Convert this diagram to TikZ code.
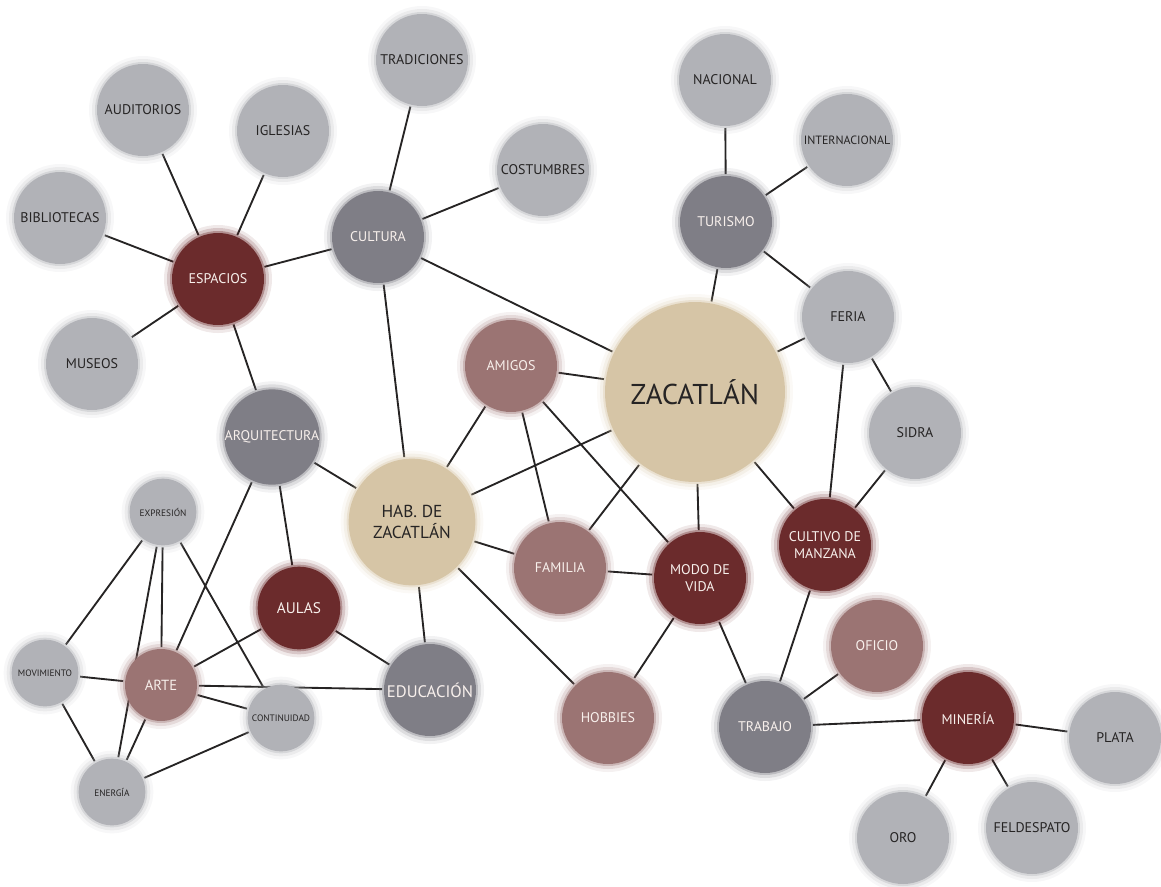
\documentclass[tikz,border=0pt]{standalone}
\usepackage{fontspec}
\setmainfont{PT Sans}
\usetikzlibrary{backgrounds}
\definecolor{litegray}{RGB}{177,178,183}
\definecolor{midgray}{RGB}{127,126,134}
\definecolor{wine}{RGB}{107,43,44}
\definecolor{rose}{RGB}{155,116,115}
\definecolor{sand}{RGB}{214,197,166}
\definecolor{ink}{RGB}{38,36,36}
\definecolor{chalk}{RGB}{248,240,236}

\begin{document}
\begin{tikzpicture}[x=0.75pt,y=0.75pt,yscale=-1,xscale=1,
  blob/.style={circle,inner sep=0pt,minimum size=69pt,fill=#1,draw=#1,draw opacity=.35,line width=3pt,
    preaction={draw=#1,draw opacity=.1,line width=12pt},
    preaction={draw=#1,draw opacity=.18,line width=7.5pt},align=center,font=\fontsize{10.5}{12.5}\selectfont},
  leaf/.style={blob=litegray,text=ink},
  hub/.style={blob=midgray,text=chalk},
  core/.style={blob=wine,text=chalk},
  kin/.style={blob=rose,text=chalk},
  town/.style={blob=sand,text=ink},
  tiny/.style={minimum size=50pt,font=\fontsize{7}{8}\selectfont},
  wire/.style={line width=1.4pt,draw=ink}]
\useasboundingbox (0,0) rectangle (1161,886);

% espacios / cultura
\node[leaf] (tradiciones) at (422,60) {TRADICIONES};
\node[leaf] (auditorios) at (143,110) {AUDITORIOS};
\node[leaf] (iglesias) at (283,131) {IGLESIAS};
\node[leaf] (bibliotecas) at (60,218) {BIBLIOTECAS};
\node[core] (espacios) at (218,279) {ESPACIOS};
\node[leaf] (museos) at (92,364) {MUSEOS};
\node[hub] (cultura) at (378,237) {CULTURA};
\node[leaf] (costumbres) at (543,170) {COSTUMBRES};

% turismo
\node[leaf] (nacional) at (725,80) {NACIONAL};
\node[leaf,font=\fontsize{9}{11}\selectfont] (internacional) at (847,140) {INTERNACIONAL};
\node[hub] (turismo) at (726,222) {TURISMO};
\node[leaf] (feria) at (848,317) {FERIA};
\node[leaf] (sidra) at (915,433) {SIDRA};

% centro
\node[town,minimum size=135pt,font=\fontsize{21.5}{25}\selectfont] (zacatlan) at (695,392) {ZACATLÁN};
\node[town,minimum size=95pt,font=\fontsize{13}{15.5}\selectfont] (hab) at (412,522) {HAB. DE\\ZACATLÁN};
\node[kin] (amigos) at (511,366) {AMIGOS};
\node[kin] (familia) at (560,568) {FAMILIA};
\node[core] (modo) at (700,578) {MODO DE\\VIDA};
\node[core] (cultivo) at (825,545) {CULTIVO DE\\MANZANA};
\node[hub] (arquitectura) at (272,437) {ARQUITECTURA};
\node[hub,font=\fontsize{12.5}{15}\selectfont] (educacion) at (430,690) {EDUCACIÓN};
\node[core,minimum size=62pt,font=\fontsize{11.5}{14}\selectfont] (aulas) at (299,608) {AULAS};

% arte
\node[kin,minimum size=54pt,font=\fontsize{11}{13}\selectfont] (arte) at (161,685) {ARTE};
\node[leaf,tiny] (expresion) at (163,512) {EXPRESIÓN};
\node[leaf,tiny] (movimiento) at (45,673) {MOVIMIENTO};
\node[leaf,tiny] (continuidad) at (281,718) {CONTINUIDAD};
\node[leaf,tiny] (energia) at (112,792) {ENERGÍA};

% trabajo
\node[kin] (hobbies) at (608,718) {HOBBIES};
\node[hub] (trabajo) at (765,727) {TRABAJO};
\node[kin] (oficio) at (877,646) {OFICIO};
\node[core] (mineria) at (968,718) {MINERÍA};
\node[leaf] (plata) at (1115,738) {PLATA};
\node[leaf] (oro) at (903,838) {ORO};
\node[leaf] (feldespato) at (1032,828) {FELDESPATO};

\begin{pgfonlayer}{background}
\draw[wire] (espacios) -- (auditorios) (espacios) -- (iglesias) (espacios) -- (bibliotecas) (espacios) -- (museos)
  (espacios) -- (cultura) (espacios) -- (arquitectura)
  (cultura) -- (tradiciones) (cultura) -- (costumbres) (cultura) -- (zacatlan) (cultura) -- (hab)
  (turismo) -- (nacional) (turismo) -- (internacional) (turismo) -- (zacatlan) (turismo) -- (feria)
  (feria) -- (zacatlan) (feria) -- (cultivo) (feria) -- (sidra) (sidra) -- (cultivo)
  (zacatlan) -- (amigos) (zacatlan) -- (hab) (zacatlan) -- (familia) (zacatlan) -- (modo) (zacatlan) -- (cultivo)
  (amigos) -- (hab) (amigos) -- (familia) (amigos) -- (modo)
  (hab) -- (arquitectura) (hab) -- (familia) (hab) -- (educacion) (hab) -- (hobbies)
  (familia) -- (modo) (modo) -- (hobbies) (modo) -- (trabajo)
  (cultivo) -- (trabajo) (trabajo) -- (oficio) (trabajo) -- (mineria)
  (mineria) -- (plata) (mineria) -- (oro) (mineria) -- (feldespato)
  (arquitectura) -- (aulas) (arquitectura) -- (arte) (aulas) -- (arte) (aulas) -- (educacion)
  (arte) -- (educacion) (arte) -- (continuidad) (arte) -- (movimiento) (arte) -- (expresion) (arte) -- (energia)
  (expresion) -- (movimiento) (expresion) -- (energia) (expresion) -- (continuidad)
  (movimiento) -- (energia) (energia) -- (continuidad);
\end{pgfonlayer}
\end{tikzpicture}
\end{document}
